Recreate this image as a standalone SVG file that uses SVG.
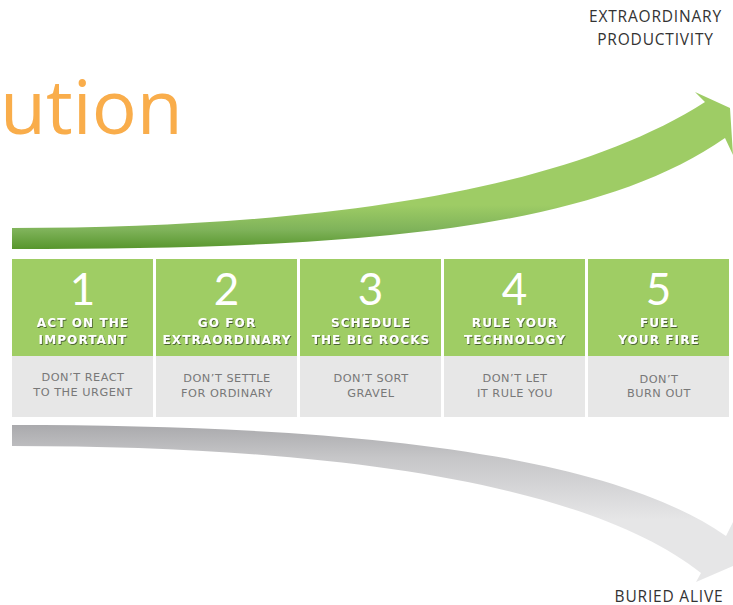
<svg xmlns="http://www.w3.org/2000/svg" width="733" height="605" viewBox="0 0 733 605">
<defs>
<linearGradient id="gGreen" gradientUnits="userSpaceOnUse" x1="0" y1="250" x2="0" y2="205">
<stop offset="0" stop-color="#55942a"/>
<stop offset="0.45" stop-color="#7fb35a"/>
<stop offset="1" stop-color="#9ecc65"/>
</linearGradient>
<linearGradient id="gGray" gradientUnits="userSpaceOnUse" x1="0" y1="424" x2="0" y2="520">
<stop offset="0" stop-color="#a9a9ac"/>
<stop offset="0.35" stop-color="#c6c6c8"/>
<stop offset="1" stop-color="#e6e6e7"/>
</linearGradient>
<filter id="sh" x="-10%" y="-30%" width="120%" height="160%">
<feDropShadow dx="0.8" dy="1" stdDeviation="0.3" flood-color="#2d3a20" flood-opacity="0.75"/>
</filter>
</defs>
<style>
.top{fill:#9fcd64}
.bot{fill:#e7e7e7}
.num{font-family:Lato,"Open Sans",sans-serif;font-weight:400;font-size:44px;fill:#ffffff;text-anchor:middle}
.ttl{font-family:"DejaVu Sans",sans-serif;font-weight:bold;font-size:12px;letter-spacing:1.1px;fill:#ffffff;text-anchor:middle;filter:url(#sh)}
.sub{font-family:"DejaVu Sans",sans-serif;font-size:11.3px;letter-spacing:0.5px;fill:#787878;text-anchor:middle}
.lbl{font-family:"Open Sans",sans-serif;font-size:15.5px;letter-spacing:0.8px;fill:#333333;text-anchor:middle}
</style>
<rect width="733" height="605" fill="#ffffff"/>
<text x="0" y="134" font-family="'Open Sans',sans-serif" font-size="75" fill="#f9ad4b">ution</text>
<g id="connectors">
<path id="arrow-up" fill="url(#gGreen)" d="M12,228 C300,228 560,195 705,102 L695,92 L730,108 L733,155 L725,138 C590,232 350,249 12,249 Z"/>
<path id="arrow-down" fill="url(#gGray)" d="M12,425 C320,425 600,448 726,536 L733,522 L733,566 L696,582 L701,573 C590,485 340,446 12,446 Z"/>
</g>
<text class="lbl" x="655.5" y="21.5">EXTRAORDINARY</text>
<text class="lbl" x="655.5" y="45">PRODUCTIVITY</text>
<text class="lbl" x="669" y="601.5">BURIED ALIVE</text>
<g id="step1">
<rect class="top" x="12" y="259" width="141" height="97"/>
<rect class="bot" x="12" y="356" width="141" height="61"/>
<text class="num" x="82.5" y="305">1</text>
<text class="ttl" x="83" y="327">ACT ON THE</text>
<text class="ttl" x="83" y="343.5">IMPORTANT</text>
<text class="sub" x="83" y="381">DON’T REACT</text>
<text class="sub" x="83" y="395.5">TO THE URGENT</text>
</g>
<g id="step2">
<rect class="top" x="156" y="259" width="141" height="97"/>
<rect class="bot" x="156" y="356" width="141" height="61"/>
<text class="num" x="226.5" y="305">2</text>
<text class="ttl" x="227" y="327">GO FOR</text>
<text class="ttl" x="227" y="343.5">EXTRAORDINARY</text>
<text class="sub" x="227" y="382">DON’T SETTLE</text>
<text class="sub" x="227" y="396.5">FOR ORDINARY</text>
</g>
<g id="step3">
<rect class="top" x="300" y="259" width="141" height="97"/>
<rect class="bot" x="300" y="356" width="141" height="61"/>
<text class="num" x="370.5" y="305">3</text>
<text class="ttl" x="371" y="327">SCHEDULE</text>
<text class="ttl" x="371" y="343.5">THE BIG ROCKS</text>
<text class="sub" x="371" y="382">DON’T SORT</text>
<text class="sub" x="371" y="396.5">GRAVEL</text>
</g>
<g id="step4">
<rect class="top" x="444" y="259" width="141" height="97"/>
<rect class="bot" x="444" y="356" width="141" height="61"/>
<text class="num" x="514.5" y="305">4</text>
<text class="ttl" x="515" y="327">RULE YOUR</text>
<text class="ttl" x="515" y="343.5">TECHNOLOGY</text>
<text class="sub" x="515" y="382">DON’T LET</text>
<text class="sub" x="515" y="396.5">IT RULE YOU</text>
</g>
<g id="step5">
<rect class="top" x="588" y="259" width="141" height="97"/>
<rect class="bot" x="588" y="356" width="141" height="61"/>
<text class="num" x="658.5" y="305">5</text>
<text class="ttl" x="659" y="327">FUEL</text>
<text class="ttl" x="659" y="343.5">YOUR FIRE</text>
<text class="sub" x="659" y="382.5">DON’T</text>
<text class="sub" x="659" y="397">BURN OUT</text>
</g>
</svg>
